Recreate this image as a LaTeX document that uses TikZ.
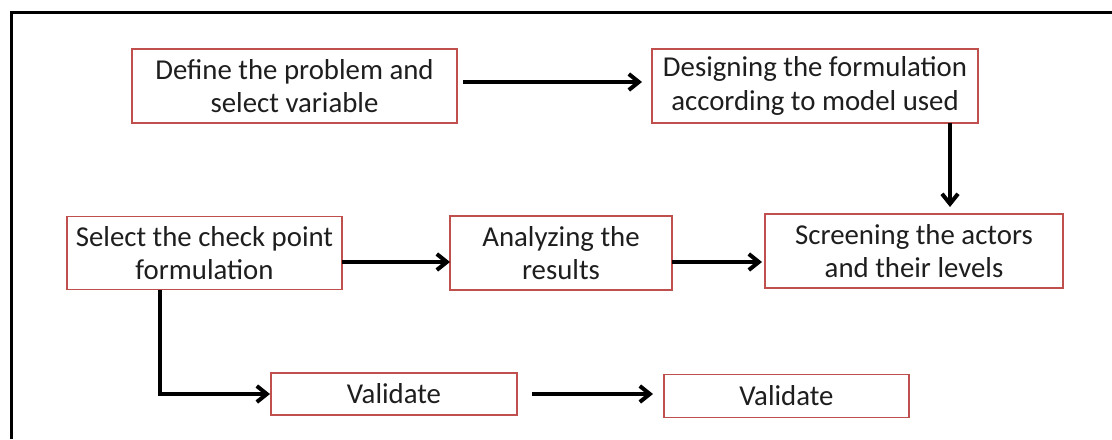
\documentclass[tikz,border=0pt]{standalone}
\usepackage{fontspec}
\setmainfont{Carlito}
\usetikzlibrary{arrows.meta}
\definecolor{boxred}{RGB}{192,80,77}
\definecolor{ink}{RGB}{30,30,30}

\begin{document}
\begin{tikzpicture}[x=0.5pt,y=-0.5pt,
    box/.style={draw=boxred,line width=0.6pt,fill=white,text=ink,align=center,
      inner sep=0pt,outer sep=0pt,font=\fontsize{14.4}{16.8}\selectfont},
    flow/.style={line width=2pt,-{Straight Barb[length=5pt,width=8pt]}}]
  \useasboundingbox (0,0) rectangle (1112,439);
  \draw[line width=1.5pt] (11,439) -- (11,12.5) -- (1112,12.5);

  \node[box,minimum width=162.5pt,minimum height=37pt] (define) at (294.5,86)
    {Define the problem and\\select variable};
  \node[box,minimum width=163pt,minimum height=37pt] (design) at (815,86)
    {Designing the formulation\\according to model used};
  \node[box,minimum width=137.5pt,minimum height=36.5pt] (check) at (204.5,253)
    {Select the check point\\formulation};
  \node[box,minimum width=111pt,minimum height=37pt] (analyze) at (561,253)
    {Analyzing the\\results};
  \node[box,minimum width=149pt,minimum height=37pt] (screen) at (914,251)
    {Screening the actors\\and their levels};
  \node[box,minimum width=123pt,minimum height=21pt] (valid1) at (394,394)
    {Validate};
  \node[box,minimum width=122.5pt,minimum height=21.5pt] (valid2) at (786.5,396)
    {Validate};

  \draw[flow,shorten <=3pt,shorten >=5pt] ([yshift=2pt]define.east) -- ([yshift=2pt]design.west);
  \draw[flow,shorten >=3.5pt] ([xshift=67.5pt]design.south) -- ([xshift=18pt]screen.north);
  \draw[flow] ([yshift=-4.5pt]check.east) -- ([yshift=-4.5pt]analyze.west);
  \draw[flow,shorten >=1.5pt] ([yshift=-4.5pt]analyze.east) -- ([yshift=-5.5pt]screen.west);
  \draw[flow,shorten >=0.5pt] ([xshift=-22.25pt]check.south) |- (valid1.west);
  \draw[flow,shorten <=7.5pt,shorten >=5.5pt] (valid1.east) -- (valid1.east -| valid2.west);
\end{tikzpicture}
\end{document}
